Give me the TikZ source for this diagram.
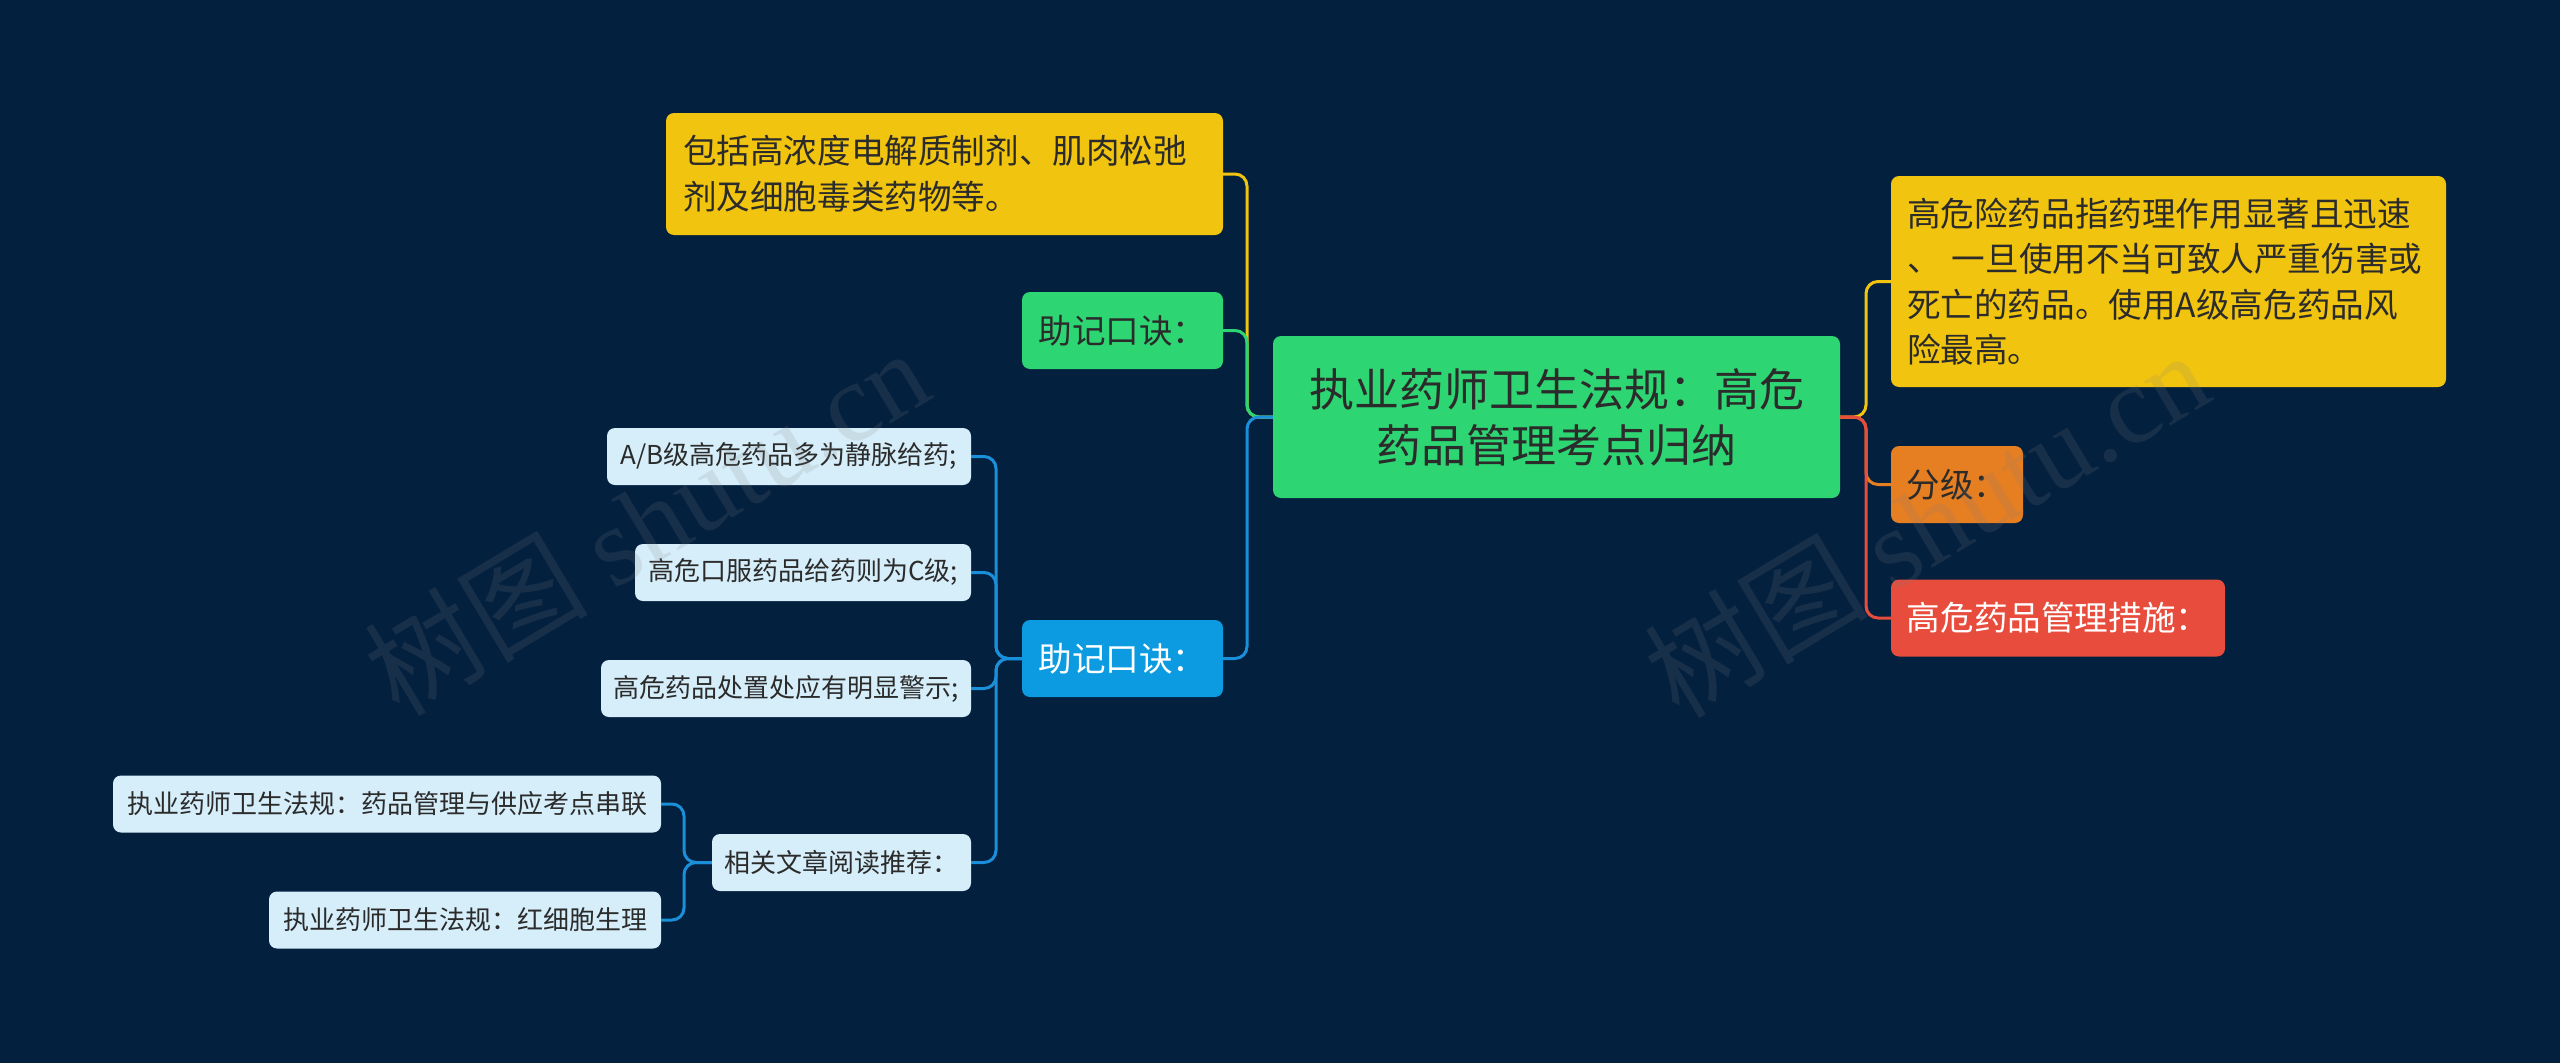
\documentclass[tikz,border=0pt]{standalone}
\usepackage{fontspec}
\setmainfont{Noto Sans CJK SC}
\newfontfamily\wmserif{Liberation Serif}
\definecolor{bgc}{HTML}{03203F}
\definecolor{rootc}{HTML}{2ED573}
\definecolor{yelc}{HTML}{F1C40F}
\definecolor{bluec}{HTML}{0C9BE0}
\definecolor{leafc}{HTML}{D6EEFA}
\definecolor{orgc}{HTML}{E67E22}
\definecolor{redc}{HTML}{E74C3C}
\definecolor{linkblue}{HTML}{1A8FDA}
\definecolor{txtc}{HTML}{2B2B2B}
\begin{document}
\begin{tikzpicture}[x=1pt,y=-1pt,
  box/.style={rectangle,rounded corners=8pt,inner sep=0pt,text=txtc},
  midbox/.style={box,font=\fontsize{33.6}{45.5}\selectfont,minimum height=77pt},
  leafbox/.style={box,fill=leafc,font=\fontsize{26}{32}\selectfont,minimum height=57pt},
  link/.style={line width=3pt,rounded corners=12pt},
  wm/.style={text=gray,opacity=0.16,rotate=31,font=\fontsize{112}{120}\selectfont}
]
\fill[bgc] (0,0) rectangle (2560,1063);
\useasboundingbox (0,0) rectangle (2560,1063);

% root
\node[box,fill=rootc,font=\fontsize{45}{56}\selectfont,align=center,
  minimum width=567pt,minimum height=162pt] (root) at (1556.5,417)
  {执业药师卫生法规：高危\\药品管理考点归纳};

% left side
\node[box,fill=yelc,font=\fontsize{33.6}{46}\selectfont,align=left,
  text width=523pt,inner xsep=17pt,minimum height=122pt] (ytop) at (944.5,174)
  {包括高浓度电解质制剂、肌肉松弛\\剂及细胞毒类药物等。};
\node[midbox,fill=rootc,minimum width=201pt] (gmem) at (1122.5,330.5) {助记口诀：};
\node[midbox,fill=bluec,text=white,minimum width=201pt] (bmem) at (1122.5,658.5) {助记口诀：};

\node[leafbox,minimum width=364pt] (l1) at (789,456.5) {A/B级高危药品多为静脉给药;};
\node[leafbox,minimum width=336pt] (l2) at (803,572.5) {高危口服药品给药则为C级;};
\node[leafbox,minimum width=370pt] (l3) at (786,688.5) {高危药品处置处应有明显警示;};
\node[leafbox,minimum width=259pt] (l4) at (841.5,862.5) {相关文章阅读推荐：};
\node[leafbox,minimum width=548pt] (l5) at (387,804) {执业药师卫生法规：药品管理与供应考点串联};
\node[leafbox,minimum width=392pt] (l6) at (465,920) {执业药师卫生法规：红细胞生理};

% right side
\node[box,fill=yelc,font=\fontsize{33.6}{45.5}\selectfont,align=left,
  text width=523pt,inner xsep=16pt,minimum height=211pt] (ydef) at (2168.5,281.5)
  {高危险药品指药理作用显著且迅速\\、 一旦使用不当可致人严重伤害或\\死亡的药品。使用A级高危药品风\\险最高。};
\node[midbox,fill=orgc,minimum width=132pt] (grade) at (1957,484.5) {分级：};
\node[midbox,fill=redc,text=white,minimum width=334pt] (meas) at (2058,618) {高危药品管理措施：};

% junctions
\coordinate (lj) at (1247,417);
\coordinate (rj) at (1866,417);
\coordinate (bj) at (996,658.5);
\coordinate (aj) at (684,862.5);

% connectors left
\draw[link,yelc] (root.west) -- (lj) |- (ytop.east);
\draw[link,rootc] (root.west) -- (lj) |- (gmem.east);
\draw[link,linkblue] (root.west) -- (lj) |- (bmem.east);
\draw[link,linkblue] (bmem.west) -- (bj) |- (l1.east);
\draw[link,linkblue] (bmem.west) -- (bj) |- (l2.east);
\draw[link,linkblue] (bmem.west) -- (bj) |- (l3.east);
\draw[link,linkblue] (bmem.west) -- (bj) |- (l4.east);
\draw[link,linkblue] (l4.west) -- (aj) |- (l5.east);
\draw[link,linkblue] (l4.west) -- (aj) |- (l6.east);

% connectors right
\draw[link,yelc] (root.east) -- (rj) |- (ydef.west);
\draw[link,orgc] (root.east) -- (rj) |- (grade.west);
\draw[link,redc] (root.east) -- (rj) |- (meas.west);

% watermarks
\node[wm] (wm1) at (646,521) {树图 {\wmserif shutu.cn}};
\node[wm] (wm2) at (1926,523) {树图 {\wmserif shutu.cn}};
\end{tikzpicture}
\end{document}
